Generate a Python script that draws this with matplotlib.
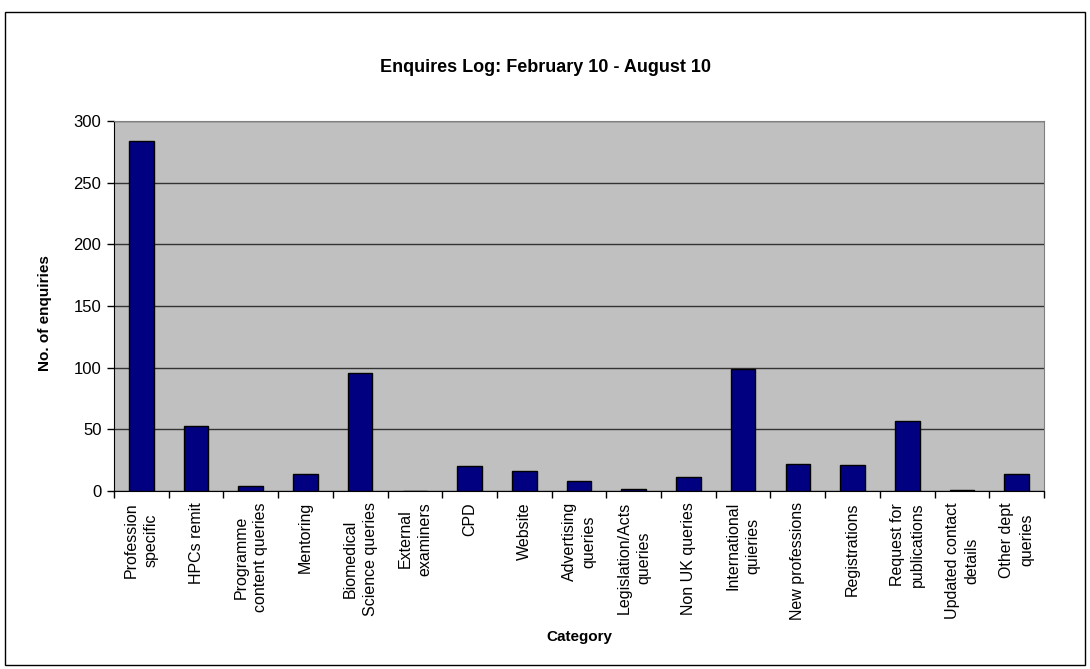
import matplotlib.pyplot as plt
import numpy as np
from matplotlib.patches import Rectangle

plt.rcParams['font.family'] = ['Liberation Sans', 'DejaVu Sans']

categories = ['Profession\nspecific', 'HPCs remit', 'Programme\ncontent queries',
              'Mentoring', 'Biomedical\nScience queries', 'External\nexaminers',
              'CPD', 'Website', 'Advertising\nqueries', 'Legislation/Acts\nqueries',
              'Non UK queries', 'International\nquieries', 'New professions',
              'Registrations', 'Request for\npublications', 'Updated contact\ndetails',
              'Other dept\nqueries']
enquiries = [284, 53, 4, 14, 96, 0, 20, 16, 8, 2, 11, 99, 22, 21, 57, 1, 14]
y_ticks = [0, 50, 100, 150, 200, 250, 300]

W, H = 1090, 669
fig = plt.figure(figsize=(W / 100, H / 100), dpi=100)
ax = fig.add_axes([114 / W, 1 - 491 / H, (1044 - 114) / W, (491 - 121) / H])

# chart area border
fig.patches.append(Rectangle((5 / W, 4 / H), 1080 / W, 653 / H,
                             transform=fig.transFigure, fill=False,
                             edgecolor='black', linewidth=1))

x = np.arange(len(categories))
ax.set_facecolor('#C0C0C0')
ax.bar(x, enquiries, width=0.45, color='#000080', edgecolor='black',
       linewidth=1, zorder=3)

ax.set_xlim(-0.5, len(categories) - 0.5)
ax.set_ylim(0, 300)
ax.set_yticks(y_ticks)
ax.yaxis.grid(True, color='#333333', linewidth=1, zorder=1)
ax.tick_params(axis='y', labelsize=12, direction='out', length=5, width=1, pad=4)

ax.set_xticks(x)
ax.set_xticklabels(categories, rotation=90, fontsize=11.5, ha='center',
                   va='top', multialignment='center', linespacing=1.4)
ax.tick_params(axis='x', which='major', length=0, pad=8)
ax.set_xticks(np.arange(len(categories) + 1) - 0.5, minor=True)
ax.tick_params(axis='x', which='minor', length=5, width=1, direction='out')

for side in ['top', 'right']:
    ax.spines[side].set_color('#808080')
for side in ['left', 'bottom']:
    ax.spines[side].set_color('black')

fig.text(45 / W, 1 - 313 / H, 'No. of enquiries', fontsize=11,
         fontweight='bold', rotation=90, ha='center', va='center')
fig.text(579 / W, 1 - 637 / H, 'Category', fontsize=11,
         fontweight='bold', ha='center', va='center')
fig.text(545 / W, 1 - 68 / H, 'Enquires Log: February 10 - August 10',
         fontsize=13, fontweight='bold', ha='center', va='center')

plt.savefig('out.png', dpi=100)
plt.close(fig)
